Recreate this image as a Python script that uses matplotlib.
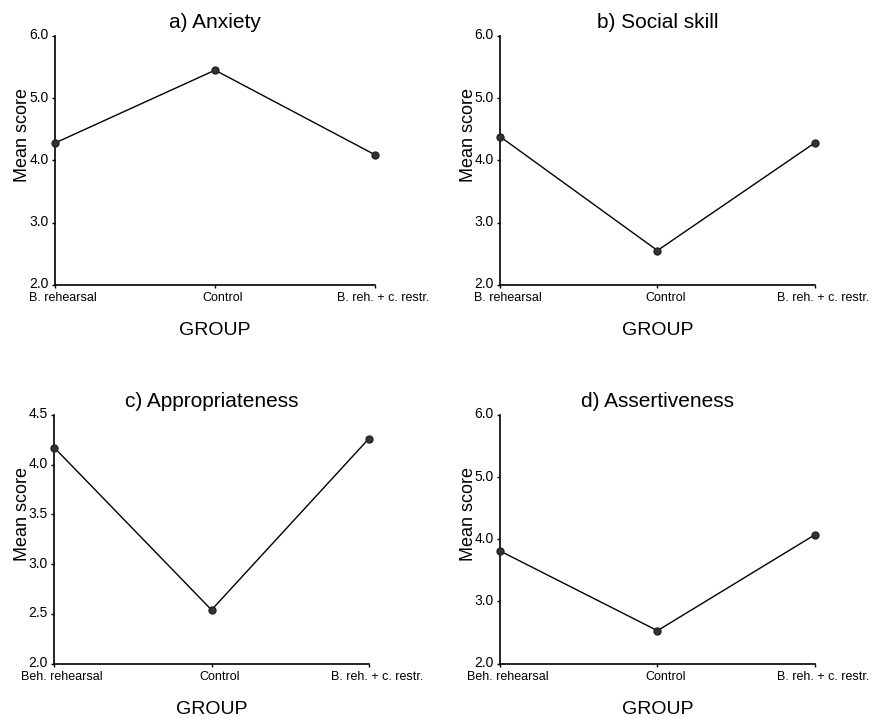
import numpy as np
import matplotlib
matplotlib.use("Agg")
import matplotlib.pyplot as plt
import matplotlib.transforms as mtrans

plt.rcParams['font.family'] = ['Liberation Sans', 'DejaVu Sans']

titles = ["a) Anxiety", "b) Social skill", "c) Appropriateness", "d) Assertiveness"]
groups_top = ["B. rehearsal", "Control", "B. reh. + c. restr."]
groups_bottom = ["Beh. rehearsal", "Control", "B. reh. + c. restr."]

anxiety = [4.28, 5.45, 4.09]
social_skill = [4.38, 2.55, 4.28]
appropriateness = [4.17, 2.54, 4.26]
assertiveness = [3.81, 2.53, 4.07]

yticks_a = [2.0, 3.0, 4.0, 5.0, 6.0]
yticks_c = [2.0, 2.5, 3.0, 3.5, 4.0, 4.5]

series = [anxiety, social_skill, appropriateness, assertiveness]
xlabels = [groups_top, groups_top, groups_bottom, groups_bottom]
yticks = [yticks_a, yticks_a, yticks_c, yticks_a]

# axes rectangles in figure fraction (left, bottom, width, height)
rects = [
    [0.063, 0.604, 0.365, 0.346],
    [0.571, 0.604, 0.359, 0.346],
    [0.062, 0.077, 0.359, 0.346],
    [0.571, 0.077, 0.359, 0.346],
]

fig = plt.figure(figsize=(8.76, 7.19), dpi=100)

for i in range(4):
    ax = fig.add_axes(rects[i])
    x = np.arange(len(series[i]))
    ax.plot(x, series[i], color='black', lw=1.0, marker='o', ms=5,
            mfc='#333333', mec='#222222', clip_on=False, zorder=3)
    ax.set_xlim(0, 2)
    ax.set_ylim(yticks[i][0], yticks[i][-1])
    ax.set_xticks(x)
    ax.set_xticklabels(xlabels[i], fontsize=9)
    ax.set_yticks(yticks[i])
    ax.set_yticklabels(["%.1f" % v for v in yticks[i]], fontsize=10)
    ax.tick_params(length=2.5, width=1, pad=2, color='black')
    ax.tick_params(axis='x', pad=3)
    # x labels sit a little right of their ticks, y labels a little high
    xoff = mtrans.ScaledTranslation(8 / 100, 0, fig.dpi_scale_trans)
    for lab in ax.get_xticklabels():
        lab.set_transform(lab.get_transform() + xoff)
    yoff = mtrans.ScaledTranslation(0, 2 / 100, fig.dpi_scale_trans)
    for lab in ax.get_yticklabels():
        lab.set_transform(lab.get_transform() + yoff)
    ax.spines['top'].set_visible(False)
    ax.spines['right'].set_visible(False)
    ax.spines['left'].set_linewidth(1.2)
    ax.spines['bottom'].set_linewidth(1.2)
    ax.set_title(titles[i], fontsize=15, pad=6)
    ax.set_ylabel("Mean score", fontsize=13)
    ax.yaxis.set_label_coords(-0.075, 0.6)
    ax.set_xlabel("GROUP", fontsize=14, labelpad=13)

fig.savefig("out.png", dpi=100)
